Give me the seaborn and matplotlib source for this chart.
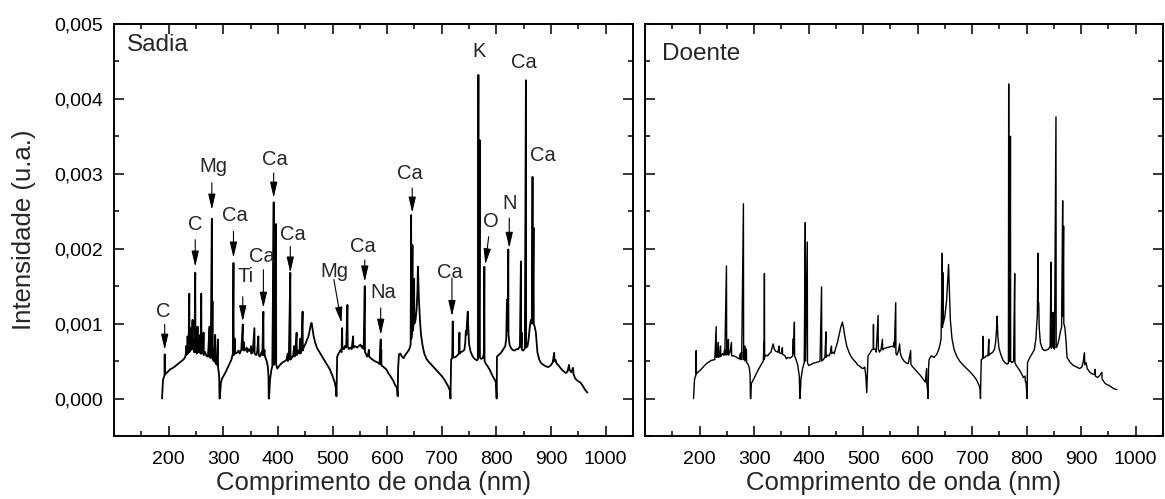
import numpy as np
import pandas as pd
import matplotlib
matplotlib.use("Agg")
import matplotlib.pyplot as plt
import seaborn as sns

# ---------------- data (wavelength nm, intensity in 1e-3 u.a.) ----------------
sadia_points = [
    # channel 1
    (187.9, 0.00), (189.7, 0.25), (192.4, 0.31), (192.8, 0.59), (193.2, 0.32), (196, 0.34), (203, 0.39),
    (210, 0.42), (215, 0.45), (222, 0.49), (227, 0.52), (230, 0.55), (231.5, 0.60), (232, 0.70), (232.5, 0.58),
    (234.5, 0.62), (234.7, 0.83), (235, 0.60), (236.5, 0.65), (237.8, 1.40), (238.2, 0.62), (239.5, 0.70),
    (240.8, 0.94), (241.2, 0.65), (242.5, 0.72), (243.8, 1.05), (244.2, 0.66), (245.5, 0.78), (246.5, 0.62),
    (247.5, 0.75), (248.7, 1.68), (249.1, 0.62), (250.5, 0.80), (251.5, 0.60), (253, 0.96), (253.4, 0.62),
    (255, 0.85), (255.5, 0.62), (257, 0.72), (258.5, 0.60), (259.7, 1.40), (260.1, 0.60), (262, 0.75),
    (263, 0.60), (263.9, 0.88), (264.3, 0.58), (267, 0.62), (269, 0.57), (272, 0.56), (274.9, 0.96),
    (275.3, 0.55), (277, 0.54), (279.1, 2.40), (279.5, 0.55), (280.3, 1.30), (280.6, 0.52), (283, 0.50),
    (285.2, 0.85), (285.5, 0.48), (288, 0.45), (290.1, 0.79), (290.5, 0.42), (291.5, 0.36), (292.5, 0.30),
    (293.1, 0.00),
    # channel 2
    (293.7, 0.00), (295.6, 0.21), (298, 0.27), (303.5, 0.34), (308, 0.41), (312.6, 0.48), (315, 0.52),
    (317.5, 0.60), (318.7, 1.81), (319.1, 0.58), (320, 0.62), (321, 0.80), (321.4, 0.60), (324.8, 0.61),
    (328, 0.64), (330, 0.60), (333, 0.65), (335.7, 0.99), (336.1, 0.65), (338, 0.75), (338.4, 0.64),
    (340, 0.65), (343, 0.68), (344, 0.62), (346, 0.66), (349.1, 0.63), (351, 0.70), (351.3, 0.60),
    (354, 0.62), (357, 0.94), (357.4, 0.60), (360, 0.58), (362, 0.62), (364.3, 0.83), (364.7, 0.58),
    (367, 0.56), (370, 0.62), (371.5, 0.58), (373.4, 1.16), (373.8, 0.58), (375.5, 0.65), (376, 0.57),
    (379.5, 0.50), (381.5, 0.43), (382.8, 0.30), (383.2, 0.00),
    # channel 3
    (383.8, 0.00), (385.6, 0.25), (388, 0.38), (389.8, 0.43), (392.3, 2.62), (392.7, 0.45), (394.5, 0.50),
    (396.5, 2.33), (396.9, 0.45), (399, 0.40), (403.8, 0.45), (408, 0.48), (412.9, 0.50), (416, 0.52),
    (418, 0.60), (418.3, 0.50), (420, 0.53), (422.7, 1.68), (423.1, 0.52), (426, 0.55), (428, 0.58),
    (430, 0.70), (430.3, 0.56), (432, 0.60), (434.3, 0.88), (434.7, 0.58), (437, 0.64), (439, 0.60),
    (441, 0.80), (441.3, 0.60), (443, 0.66), (445.2, 1.16), (445.6, 0.64), (448, 0.70), (450, 0.72),
    (453, 0.78), (455.5, 0.82), (458, 0.90), (460, 0.98), (461.6, 1.01), (463, 0.95), (465, 0.85),
    (468, 0.75), (472, 0.67), (476.8, 0.61), (481, 0.56), (486, 0.50), (490, 0.45), (495.1, 0.39),
    (500, 0.30), (504.2, 0.21), (506.5, 0.12), (507.2, 0.03),
    # channel 4
    (507.8, 0.30), (508.5, 0.56), (511, 0.60), (513.3, 0.63), (515, 0.65), (516.5, 0.62), (517.6, 0.94),
    (518, 0.66), (519.4, 0.68), (521, 0.66), (522.5, 0.70), (525, 0.68), (527.3, 1.25), (527.7, 0.70),
    (530, 0.66), (533, 0.68), (535, 0.66), (537.7, 0.83), (538.1, 0.68), (541, 0.70), (545, 0.68),
    (548, 0.70), (551, 0.72), (553.5, 0.68), (555, 0.70), (557, 0.66), (559, 1.50), (559.4, 0.62),
    (561, 0.60), (563, 0.56), (565, 0.58), (566.5, 0.65), (567, 0.56), (570, 0.54), (573, 0.52),
    (577.2, 0.50), (580, 0.49), (583, 0.48), (586, 0.46), (588.2, 0.79), (588.6, 0.46), (589.2, 0.65),
    (589.6, 0.44), (592, 0.43), (595, 0.41), (598.5, 0.39), (602, 0.34), (605, 0.31), (607.6, 0.28),
    (611, 0.24), (614, 0.19), (618, 0.14), (619.3, 0.03),
    # channel 5
    (620, 0.40), (621.6, 0.59), (624, 0.60), (627, 0.56), (630.1, 0.54), (633, 0.58), (636, 0.61),
    (639, 0.64), (641.1, 0.67), (643, 0.72), (643.9, 2.45), (644.3, 0.80), (645, 0.85), (646.3, 2.05),
    (646.7, 0.90), (648, 0.95), (649.4, 1.60), (649.8, 1.00), (652, 1.05), (654, 1.20), (655.5, 1.45),
    (656.3, 1.76), (657, 1.60), (658, 1.35), (660, 1.05), (662, 0.85), (665, 0.70), (668, 0.60),
    (672, 0.53), (676, 0.49), (680, 0.46), (685, 0.42), (690, 0.38), (695, 0.34), (700, 0.30),
    (705, 0.25), (709, 0.20), (712, 0.16), (715, 0.10), (715.9, 0.00),
    # channel 6
    (716.5, 0.30), (717.1, 0.52), (719, 0.54), (720.1, 1.03), (720.5, 0.55), (723, 0.55), (726.2, 0.56),
    (729, 0.58), (731, 0.60), (732.3, 0.88), (732.7, 0.60), (735, 0.62), (738, 0.63), (741.4, 0.65),
    (743, 0.75), (744, 0.90), (745, 0.85), (746, 1.00), (747.5, 1.16), (748.5, 0.95), (750, 0.72),
    (753, 0.62), (756.6, 0.56), (760, 0.53), (764, 0.51), (766, 0.52), (767, 4.32), (767.4, 0.55),
    (768, 0.55), (769.4, 3.45), (769.8, 0.55), (772, 0.53), (775, 0.54), (777, 0.60), (777.9, 1.76),
    (778.3, 0.50), (781, 0.46), (784, 0.43), (788, 0.38), (793.1, 0.30), (797, 0.25), (799.2, 0.21),
    (800.4, 0.00),
    # channel 7
    (801, 0.56), (804, 0.58), (808.3, 0.61), (812, 0.65), (816.2, 0.70), (818, 0.80), (819.3, 1.32),
    (819.7, 0.90), (820.5, 0.95), (821.7, 1.99), (822.1, 0.85), (824, 0.72), (827, 0.67), (829.6, 0.65),
    (833, 0.64), (837, 0.66), (840, 0.66), (843, 0.70), (844.8, 1.83), (845.2, 0.68), (846.3, 0.88),
    (846.7, 0.65), (849, 0.64), (852, 0.67), (854, 4.25), (854.4, 0.68), (857, 0.70), (859, 0.80),
    (861, 0.95), (863.1, 1.05), (865, 1.00), (866.1, 2.96), (866.5, 1.05), (868, 2.28), (868.4, 1.00),
    (870, 0.96), (872.2, 0.88), (875, 0.62), (878.3, 0.52), (882, 0.47), (886, 0.45), (890.5, 0.43),
    (895, 0.42), (899, 0.44), (903, 0.48), (905.7, 0.61), (906.2, 0.50), (908, 0.52), (910, 0.47),
    (914, 0.44), (918, 0.40), (922, 0.37), (927, 0.34), (930, 0.36), (933, 0.45), (934, 0.38),
    (937, 0.35), (940.3, 0.41), (941, 0.33), (944, 0.27), (948, 0.24), (954.3, 0.21), (958, 0.17),
    (962, 0.12), (966.5, 0.08),
]

doente_points = [
    # channel 1
    (189.0, 0.00), (190.9, 0.26), (193.5, 0.32), (193.9, 0.64), (194.3, 0.33), (197, 0.35), (203, 0.39),
    (209, 0.44), (215, 0.48), (222, 0.51), (228, 0.52), (230.5, 0.96), (230.9, 0.55), (233, 0.56),
    (234.5, 0.75), (234.9, 0.55), (237, 0.57), (238.5, 0.70), (238.9, 0.56), (242, 0.60), (244, 0.58),
    (246, 0.65), (246.4, 0.58), (249.4, 1.77), (249.8, 0.58), (251, 0.60), (253, 0.79), (253.4, 0.58),
    (256, 0.62), (258.5, 0.75), (258.9, 0.57), (262, 0.57), (266, 0.56), (270, 0.54), (273, 0.53),
    (275, 0.60), (275.3, 0.52), (277, 0.62), (277.3, 0.52), (280.5, 2.60), (280.9, 0.52), (283, 0.70),
    (283.3, 0.50), (286, 0.66), (286.3, 0.48), (289, 0.46), (291.5, 0.40), (292.8, 0.30), (293.3, 0.00),
    # channel 2
    (294, 0.00), (295, 0.20), (300, 0.27), (306, 0.36), (312, 0.44), (317, 0.50), (318, 0.75),
    (318.3, 0.52), (319, 1.67), (319.4, 0.55), (322, 0.58), (325, 0.57), (328, 0.60), (331, 0.62),
    (335, 0.73), (337, 0.66), (340, 0.63), (344, 0.62), (346, 0.70), (346.3, 0.61), (350, 0.60),
    (352, 0.68), (352.3, 0.59), (355, 0.58), (357, 0.57), (359, 0.53), (362, 0.55), (365, 0.54),
    (368, 0.55), (371, 0.57), (372, 0.80), (372.3, 0.60), (374, 1.02), (374.4, 0.57), (377, 0.52),
    (380, 0.45), (383, 0.30), (384, 0.00),
    # channel 3
    (384.5, 0.00), (386, 0.26), (389, 0.40), (392, 0.48), (394, 2.35), (394.4, 0.50), (397.6, 2.09),
    (398, 0.48), (400, 0.44), (403, 0.45), (408, 0.47), (413, 0.48), (418, 0.49), (421, 0.50),
    (423.8, 1.49), (424.2, 0.50), (427, 0.52), (430, 0.55), (431.8, 0.89), (432.2, 0.55), (435, 0.58),
    (438, 0.57), (440, 0.62), (442, 0.70), (442.3, 0.60), (445, 0.62), (447, 0.60), (450, 0.68),
    (453, 0.75), (456, 0.85), (459, 0.95), (462, 1.02), (464, 0.95), (466, 0.85), (470, 0.70),
    (474, 0.62), (478, 0.56), (482, 0.52), (486, 0.49), (490, 0.45), (494, 0.43), (497, 0.41),
    (500, 0.40), (503, 0.42), (505, 0.30), (506.7, 0.08),
    # channel 4
    (508, 0.35), (509, 0.57), (512, 0.60), (516, 0.65), (518.5, 0.66), (519, 0.99), (519.4, 0.66),
    (522, 0.66), (524, 0.62), (527.5, 1.11), (527.9, 0.66), (530, 0.62), (533, 0.66), (535.4, 0.79),
    (535.8, 0.65), (539, 0.67), (544, 0.68), (549, 0.69), (556, 0.70), (557, 0.75), (557.3, 0.68),
    (559.8, 1.28), (560.2, 0.60), (562, 0.58), (565, 0.64), (567, 0.73), (568, 0.62), (570, 0.56),
    (575, 0.50), (580, 0.47), (583, 0.47), (587.2, 0.64), (587.6, 0.46), (590, 0.43), (595, 0.39),
    (600, 0.35), (605, 0.31), (610, 0.26), (614, 0.22), (616.5, 0.40), (616.9, 0.20), (618.5, 0.10),
    (619, 0.00),
    # channel 5
    (620, 0.40), (621, 0.52), (625, 0.57), (630, 0.55), (635, 0.59), (639, 0.66), (641, 0.72),
    (643, 0.80), (645.2, 1.94), (645.6, 0.95), (646.5, 1.68), (647, 1.00), (650, 1.10), (653, 1.30),
    (655, 1.55), (656.7, 1.79), (658, 1.50), (660, 1.05), (663, 0.80), (667, 0.65), (672, 0.56),
    (677, 0.50), (683, 0.45), (690, 0.40), (697, 0.35), (703, 0.30), (708, 0.25), (713, 0.17),
    (714.5, 0.12), (715.3, 0.00),
    # channel 6
    (716, 0.30), (716.8, 0.52), (719, 0.53), (720.2, 0.83), (720.6, 0.54), (723, 0.55), (726, 0.57),
    (729, 0.57), (730.5, 0.79), (730.9, 0.58), (734, 0.60), (738, 0.62), (741, 0.66), (743, 0.75),
    (744.5, 0.90), (745.8, 1.10), (747, 0.85), (749, 0.68), (752, 0.60), (756, 0.52), (760, 0.48),
    (764, 0.46), (766.5, 0.47), (767, 4.20), (767.4, 0.50), (769.5, 0.50), (770.2, 3.50), (770.6, 0.50),
    (773, 0.48), (776, 0.50), (778, 1.67), (778.4, 0.48), (781, 0.44), (785, 0.40), (790, 0.34),
    (794, 0.28), (797, 0.30), (797.3, 0.24), (799, 0.20), (800.7, 0.00),
    # channel 7
    (801.5, 0.48), (806, 0.55), (810, 0.60), (814, 0.65), (817, 0.80), (818.5, 1.00), (819.5, 1.10),
    (820.8, 1.94), (821.2, 1.30), (822, 1.28), (823, 0.95), (825, 0.75), (829, 0.66), (833, 0.64),
    (837, 0.65), (840, 0.66), (843, 0.70), (844.6, 1.82), (845, 0.67), (846.5, 0.70), (848.5, 1.15),
    (848.9, 0.68), (851, 0.66), (853.7, 3.76), (854.1, 0.68), (856, 0.70), (859, 0.78), (862, 0.90),
    (864, 0.95), (866, 2.64), (866.4, 1.10), (867.7, 2.30), (868.1, 1.00), (870, 0.95), (872, 0.78),
    (874, 0.55), (880, 0.48), (886, 0.44), (892, 0.42), (897, 0.40), (901, 0.42), (904, 0.50),
    (906, 0.61), (906.5, 0.45), (909, 0.48), (911, 0.40), (916, 0.35), (920, 0.33), (924, 0.32),
    (925.7, 0.39), (926.1, 0.30), (930, 0.28), (933, 0.30), (937.9, 0.35), (938.3, 0.26), (944, 0.20),
    (952, 0.17), (960, 0.13), (965.3, 0.12),
]

# annotations of the "Sadia" panel: label, text centre (nm, 1e-3), arrow tail, arrow head
sadia_labels = [
    ("C",  (191.0, 1.16), (192.8, 0.99), (192.8, 0.65)),
    ("C",  (248.7, 2.32), (248.7, 2.12), (248.7, 1.76)),
    ("Mg", (281.0, 3.10), (279.1, 2.88), (279.1, 2.52)),
    ("Ca", (321.5, 2.45), (318.7, 2.23), (318.7, 1.88)),
    ("Ti", (340.0, 1.63), (335.7, 1.36), (335.7, 1.03)),
    ("Ca", (370.4, 1.90), (373.4, 1.72), (373.4, 1.21)),
    ("Ca", (394.7, 3.19), (392.3, 3.01), (392.3, 2.68)),
    ("Ca", (428.2, 2.19), (422.7, 2.03), (422.7, 1.68)),
    ("Mg", (504.2, 1.70), (502.4, 1.59), (516.4, 1.01)),
    ("Ca", (555.9, 2.03), (559.0, 1.85), (559.0, 1.56)),
    ("Na", (592.4, 1.41), (588.2, 1.21), (588.2, 0.85)),
    ("Ca", (641.1, 3.01), (645.9, 2.81), (645.9, 2.48)),
    ("Ca", (714.0, 1.68), (718.6, 1.61), (718.6, 1.10)),
    ("K",  (768.8, 4.63), None, None),
    ("O",  (790.1, 2.37), (785.8, 2.16), (779.7, 1.79)),
    ("N",  (823.5, 2.61), (823.5, 2.41), (823.5, 2.01)),
    ("Ca", (850.9, 4.48), None, None),
    ("Ca", (885.6, 3.25), None, None),
]

panel_titles = ["Sadia", "Doente"]
x_label = "Comprimento de onda (nm)"
y_label = "Intensidade (u.a.)"
x_ticks = [200, 300, 400, 500, 600, 700, 800, 900, 1000]
y_ticks = [0.000, 0.001, 0.002, 0.003, 0.004, 0.005]
y_tick_labels = ["0,000", "0,001", "0,002", "0,003", "0,004", "0,005"]

# ---------------- plotting ----------------
sns.set_theme(style="ticks")
plt.rcParams["font.family"] = ["Liberation Sans", "DejaVu Sans"]
plt.rcParams["axes.linewidth"] = 1.4

fig = plt.figure(figsize=(11.65, 4.99), dpi=100)
ax1 = fig.add_axes([114 / 1165, 1 - 436 / 499, 519 / 1165, 412 / 499])
ax2 = fig.add_axes([645 / 1165, 1 - 436 / 499, 518 / 1165, 412 / 499])

MILLI = 1e-3
for ax, pts, lw in ((ax1, sadia_points, 1.3), (ax2, doente_points, 1.0)):
    df = pd.DataFrame(pts, columns=["nm", "milli"])
    df["intens"] = df["milli"] * MILLI
    sns.lineplot(data=df, x="nm", y="intens", ax=ax, estimator=None, sort=False,
                 color="black", lw=lw)

for i, ax in enumerate((ax1, ax2)):
    ax.set_xlim(100, 1050)
    ax.set_ylim(-0.0005, 0.005)
    ax.set_xticks(x_ticks)
    ax.set_xticks(np.arange(150, 1051, 100), minor=True)
    ax.set_yticks(y_ticks)
    ax.set_yticks(np.arange(-0.0005, 0.0050, 0.001), minor=True)
    ax.tick_params(which="both", direction="in", top=True, right=True, colors="black",
                   labelsize=14)
    ax.tick_params(axis="x", which="both", pad=11)
    ax.tick_params(axis="y", which="both", pad=8)
    ax.tick_params(which="major", length=7, width=1.1)
    ax.tick_params(which="minor", length=3.5, width=1.1)
    ax.set_xlabel(x_label, fontsize=18.5, labelpad=2)
    for sp in ax.spines.values():
        sp.set_color("black")
        sp.set_linewidth(1.4)

ax1.set_yticklabels(y_tick_labels)
ax1.set_ylabel(y_label, fontsize=18.5, labelpad=13)
ax2.set_yticklabels([])
ax2.set_ylabel("")

ax1.text(0.025, 0.95, panel_titles[0], transform=ax1.transAxes, fontsize=17.5,
         ha="left", va="center")
ax2.text(0.032, 0.928, panel_titles[1], transform=ax2.transAxes, fontsize=17.5,
         ha="left", va="center")

for lab, txt, tail, head in sadia_labels:
    ax1.text(txt[0], txt[1] * MILLI, lab, fontsize=14.5, ha="center", va="center")
    if tail is not None:
        ax1.annotate("", xy=(head[0], head[1] * MILLI), xytext=(tail[0], tail[1] * MILLI),
                     arrowprops=dict(arrowstyle="-|>,head_length=0.95,head_width=0.22",
                                     mutation_scale=10, color="black", lw=0.8,
                                     shrinkA=0, shrinkB=0))

fig.savefig("out.png", dpi=100)
